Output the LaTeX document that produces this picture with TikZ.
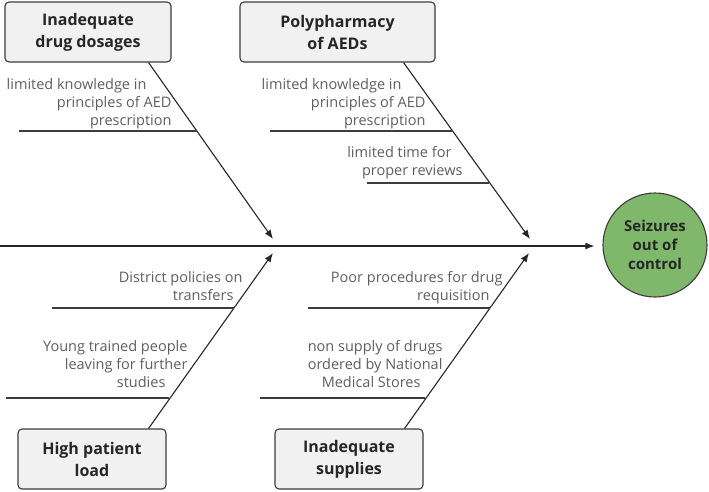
\documentclass[tikz,border=0pt]{standalone}
\usepackage{fontspec}
\setmainfont{Open Sans}
\usetikzlibrary{positioning, arrows.meta, calc}

\definecolor{boxgray}{HTML}{F1F1F1}
\definecolor{linegray}{HTML}{3C3C3C}
\definecolor{notegray}{HTML}{5E5E5E}
\definecolor{effgreen}{HTML}{7FB86B}

\begin{document}
\begin{tikzpicture}[x=1pt, y=-1pt, line width=1.1pt,
  cause/.style={draw=linegray, fill=boxgray, rounded corners=4pt, minimum height=60pt,
    align=center, font=\fontsize{16}{22}\selectfont\bfseries, text=black!85},
  effect/.style={circle, draw=linegray, fill=effgreen, minimum size=104pt,
    align=center, font=\fontsize{15}{19}\selectfont\bfseries, text=black!85},
  note/.style={align=right, inner sep=0pt, font=\fontsize{14.5}{18}\selectfont,
    text=notegray, anchor=base east},
  rib/.style={draw=linegray},
  bone/.style={-{Latex[length=9pt,width=7pt]}, draw=black!85}]
\useasboundingbox (0,0) rectangle (709,491);

% causes and effect
\node[cause, minimum width=166pt] (dos) at (88,32) {Inadequate\\drug dosages};
\node[cause, minimum width=195pt] (poly) at (337.5,32) {Polypharmacy\\of AEDs};
\node[cause, minimum width=148pt] (load) at (92,459) {High patient\\load};
\node[cause, minimum width=148pt] (supp) at (349,459) {Inadequate\\supplies};
\node[effect] (eff) at (655,245) {Seizures\\out of\\control};

% spine
\coordinate (tail) at (0,246);
\draw[bone, shorten >=8pt] (tail) -- (tail -| eff.west);

% bones
\coordinate (j1) at (273,239);
\coordinate (j2) at (530,239);
\coordinate (j3) at (273,253);
\coordinate (j4) at (529,253);
\draw[bone] ([xshift=-23pt]dos.south east) -- (j1);
\draw[bone] ([xshift=-32pt]poly.south east) -- (j2);
\draw[bone] ([xshift=-18pt]load.north east) -- (j3);
\draw[bone] ([xshift=-19pt]supp.north east) -- (j4);

% ribs
\draw[rib] (19,131) -- ++(178,0);
\draw[rib] (270,131) -- ++(182,0);
\draw[rib] (367,183) -- ++(122,0);
\draw[rib] (52,308) -- ++(182,0);
\draw[rib] (6,398) -- ++(163,0);
\draw[rib] (308,308) -- ++(182,0);
\draw[rib] (260,398) -- ++(165,0);

% sub-causes (base = last line)
\node[note] (n1) at (172,125) {limited knowledge in\hspace*{25pt}\\principles of AED\hspace*{4pt}\\prescription};
\node[note] (n2) at (426,125) {limited knowledge in\hspace*{24pt}\\principles of AED\hspace*{12pt}\\prescription};
\node[note] (n3) at (463,175) {limited time for\hspace*{11pt}\\proper reviews};
\node[note] (n4) at (243,300) {District policies on\\transfers\hspace*{9pt}};
\node[note] (n5) at (188,387) {Young trained people\\leaving for further\hspace*{11pt}\\studies\hspace*{22pt}};
\node[note] (n6) at (503,300) {Poor procedures for drug\\requisition\hspace*{13pt}};
\node[note] (n7) at (443,387) {non supply of drugs\\ordered by National\hspace*{11pt}\\Medical Stores\hspace*{22pt}};

\end{tikzpicture}
\end{document}
